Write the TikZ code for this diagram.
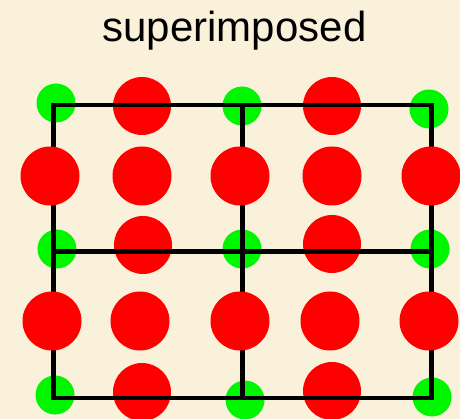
\documentclass[tikz,border=0pt]{standalone}
\usepackage{fontspec}
\setmainfont{Liberation Sans}
\definecolor{parch}{RGB}{250,241,219}
\definecolor{atomred}{RGB}{255,0,0}
\definecolor{atomgreen}{RGB}{0,245,0}
\begin{document}
\begin{tikzpicture}[x=1pt,y=-1pt,
  greenatom/.style={fill=atomgreen},
  redatom/.style={fill=atomred},
  cellline/.style={line width=4.2pt,black,line cap=rect}]
\fill[parch] (0,0) rectangle (460,419);
\useasboundingbox (0,0) rectangle (460,419);
\node[anchor=base,font=\fontsize{42pt}{48pt}\selectfont,inner sep=0pt] (title) at (234.5,42) {superimposed};
% green atoms at grid points
\foreach \x/\y in {56/103,242/106,429/109,57/249,242/249,430/249,55/395,245/400,432/397}
  \fill[greenatom] (\x,\y) circle (19.5);
% red atoms on grid rows
\foreach \x/\y in {142/106,332/106,143/245,332/244,142/392,332/391}
  \fill[redatom] (\x,\y) circle (29);
% unit cell lines
\coordinate (a1) at (53.5,105);
\coordinate (a2) at (242.5,105);
\coordinate (a3) at (431.5,105);
\coordinate (b1) at (53.5,251.5);
\coordinate (b2) at (242.5,251.5);
\coordinate (b3) at (431.5,251.5);
\coordinate (c1) at (53.5,398);
\coordinate (c2) at (242.5,398);
\coordinate (c3) at (431.5,398);
\draw[cellline] (a1) -- (a3);
\draw[cellline] (b1) -- (b3);
\draw[cellline] (c1) -- (c3);
\draw[cellline] (a1) -- (c1);
\draw[cellline] (a2) -- (c2);
\draw[cellline] (a3) -- (c3);
% red atoms on middle rows
\foreach \x in {50,142,240,332,431}
  \fill[redatom] (\x,176) circle (29.5);
\foreach \x in {52,140,240,330,429}
  \fill[redatom] (\x,321) circle (29.5);
\end{tikzpicture}
\end{document}
